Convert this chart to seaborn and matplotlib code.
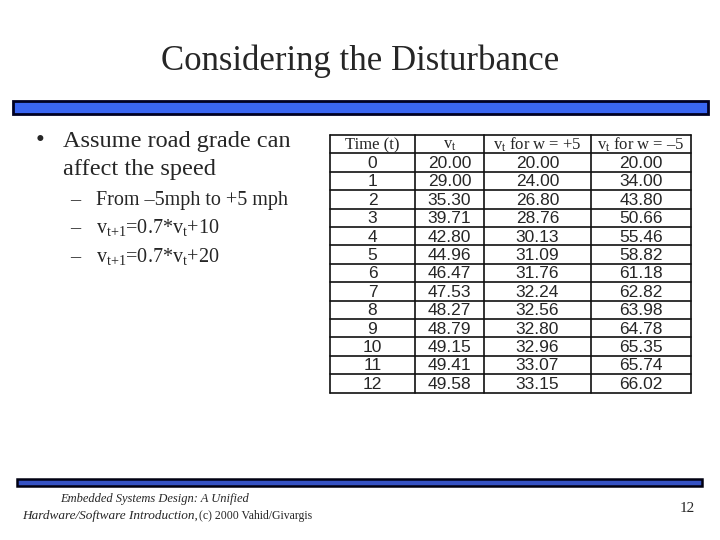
import numpy as np
import pandas as pd
import seaborn as sns
import matplotlib
matplotlib.use("Agg")
import matplotlib.pyplot as plt
from matplotlib.patches import Rectangle

# Table values
time_steps = [0, 1, 2, 3, 4, 5, 6, 7, 8, 9, 10, 11, 12]
v_t = [20.00, 29.00, 35.30, 39.71, 42.80, 44.96, 46.47, 47.53, 48.27, 48.79, 49.15, 49.41, 49.58]
v_plus5 = [20.00, 24.00, 26.80, 28.76, 30.13, 31.09, 31.76, 32.24, 32.56, 32.80, 32.96, 33.07, 33.15]
v_minus5 = [20.00, 34.00, 43.80, 50.66, 55.46, 58.82, 61.18, 62.82, 63.98, 64.78, 65.35, 65.74, 66.02]

headers = ["Time (t)", r"$\mathrm{v_t}$", r"$\mathrm{v_t}$ for w = +5",
           r"$\mathrm{v_t}$ for w = " + "\u20135"]

table = pd.DataFrame({"t": time_steps, "vt": v_t, "plus5": v_plus5, "minus5": v_minus5})

sns.set_theme(style="white")
plt.rcParams["font.family"] = ["Liberation Serif", "DejaVu Serif"]
plt.rcParams["mathtext.fontset"] = "custom"
plt.rcParams["mathtext.rm"] = "Liberation Serif"
plt.rcParams["mathtext.it"] = "Liberation Serif:italic"

fig = plt.figure(figsize=(7.2, 5.4), dpi=100)
ax = fig.add_axes([0, 0, 1, 1])
ax.set_xlim(0, 720)
ax.set_ylim(540, 0)
ax.axis("off")

# title and the blue rule bars
ax.text(360, 70, "Considering the Disturbance", ha="center", va="baseline", fontsize=25)
ax.add_patch(Rectangle((13, 101), 695, 13, facecolor="#3a66f2", edgecolor="#000022", lw=2))
ax.add_patch(Rectangle((17, 479), 685, 7, facecolor="#3552c4", edgecolor="#000011", lw=1.8))

# bullets
ax.text(40, 147, "\u2022", ha="center", va="baseline", fontsize=18)
ax.text(63, 147, "Assume road grade can", ha="left", va="baseline", fontsize=17.5)
ax.text(63, 175, "affect the speed", ha="left", va="baseline", fontsize=17.5)
subs = ["From \u20135mph to +5 mph",
        r"$\mathrm{v_{t{+}1}}$=0.7*$\mathrm{v_t}$+10",
        r"$\mathrm{v_{t{+}1}}$=0.7*$\mathrm{v_t}$+20"]
for i, s in enumerate(subs):
    yb = 205 + i * 28.5
    ax.text(70, yb, "\u2013", ha="left", va="baseline", fontsize=14.5)
    ax.text(96, yb, s, ha="left", va="baseline", fontsize=14.5)

# table
col_edges = [330, 415, 484, 591, 691]
row_top = 135
row_h = 18.4
n_rows = len(table) + 1
centers = [(col_edges[j] + col_edges[j + 1]) / 2 for j in range(4)]
for j, h in enumerate(headers):
    ax.text(centers[j], row_top + row_h / 2 + 1, h, ha="center", va="center", fontsize=12)
for i, row in table.iterrows():
    yc = row_top + (i + 1.5) * row_h + 1
    vals = [str(int(row["t"])), "%.2f" % row["vt"], "%.2f" % row["plus5"], "%.2f" % row["minus5"]]
    for j, v in enumerate(vals):
        ax.text(centers[j], yc, v, ha="center", va="center", fontsize=12.5,
                family=["Liberation Sans", "DejaVu Sans"])
for k in range(n_rows + 1):
    y = row_top + k * row_h
    ax.plot([col_edges[0], col_edges[-1]], [y, y], color="#111111", lw=1.2)
for x in col_edges:
    ax.plot([x, x], [row_top, row_top + n_rows * row_h], color="#111111", lw=1.2)

# footer
ax.text(155, 502, "Embedded Systems Design: A Unified", ha="center", va="baseline",
        fontsize=9, style="italic")
ax.text(22, 519, "Hardware/Software Introduction,", ha="left", va="baseline",
        fontsize=9.5, style="italic")
ax.text(199, 519, "(c) 2000 Vahid/Givargis", ha="left", va="baseline", fontsize=8.5)
ax.text(695, 512, "12", ha="right", va="baseline", fontsize=11)

fig.savefig("out.png", dpi=100, facecolor="white")
